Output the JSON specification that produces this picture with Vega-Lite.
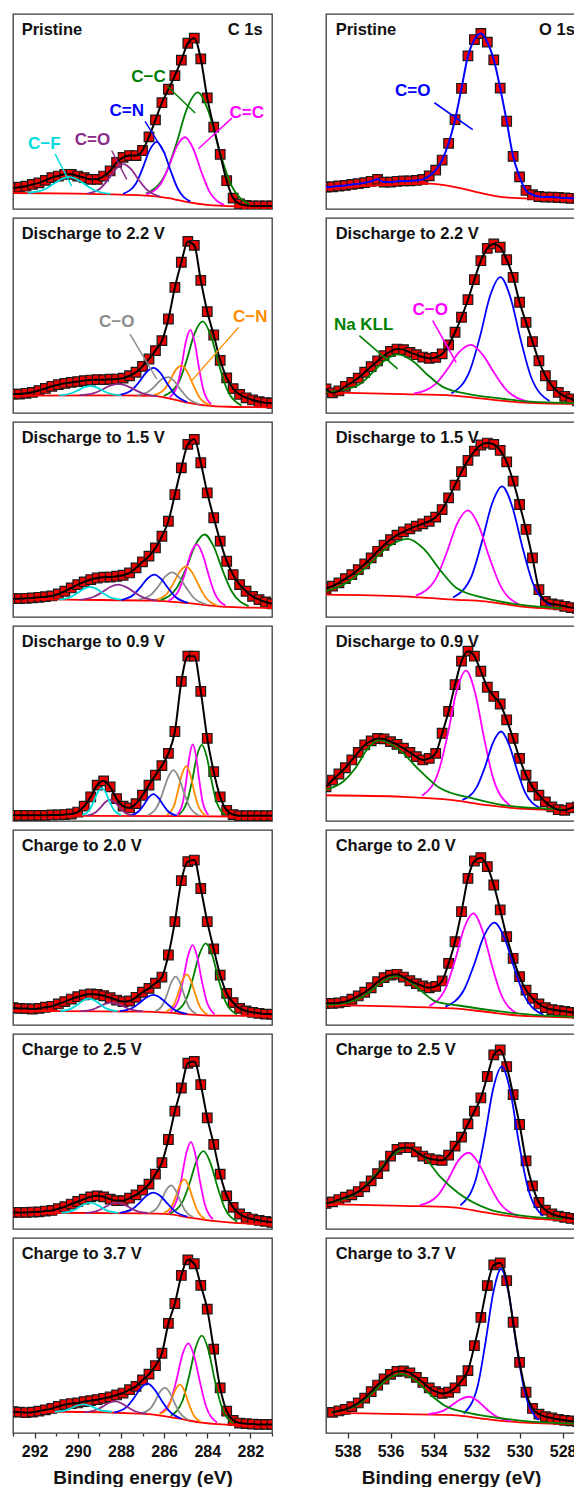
{
"$schema":"https://vega.github.io/schema/vega-lite/v6.json",
"padding":{"left":12,"top":13,"right":0,"bottom":0},
"spacing":52,
"config":{"view":{"stroke":"#3a3a3a","strokeWidth":1.3},"text":{"font":"Liberation Sans","fontWeight":"bold"},
"axisX":{"tickColor":"#333","tickWidth":1.3,"domain":false,"grid":false,"labelFont":"Liberation Sans","labelFontSize":16,"labelFontWeight":"bold","labelColor":"#111","labelPadding":5,"labelOverlap":false,"labelFlush":false,"titleFont":"Liberation Sans","titleFontSize":19,"titleFontWeight":"bold","titleColor":"#111","titlePadding":9}},
"resolve":{"scale":{"x":"independent","y":"independent","color":"independent"},"axis":{"x":"independent"}},
"datasets":{
"C":[
{"r":1,"k":"d","x":293,"y":10.8},{"r":1,"k":"d","x":292.7,"y":11.2},{"r":1,"k":"d","x":292.4,"y":11.7},{"r":1,"k":"d","x":292.1,"y":12.6},{"r":1,"k":"d","x":291.8,"y":13.4},{"r":1,"k":"d","x":291.5,"y":14.7},{"r":1,"k":"d","x":291.2,"y":16.1},{"r":1,"k":"d","x":290.9,"y":16.9},{"r":1,"k":"d","x":290.6,"y":17.8},{"r":1,"k":"d","x":290.3,"y":17.8},{"r":1,"k":"d","x":290,"y":16.9},{"r":1,"k":"d","x":289.7,"y":16.1},{"r":1,"k":"d","x":289.4,"y":15.2},{"r":1,"k":"d","x":289.1,"y":15.2},{"r":1,"k":"d","x":288.8,"y":16.9},{"r":1,"k":"d","x":288.5,"y":19.5},{"r":1,"k":"d","x":288.2,"y":23.9},{"r":1,"k":"d","x":287.9,"y":26.5},{"r":1,"k":"d","x":287.6,"y":27.4},{"r":1,"k":"d","x":287.3,"y":27.4},{"r":1,"k":"d","x":287,"y":30},{"r":1,"k":"d","x":286.7,"y":37},{"r":1,"k":"d","x":286.4,"y":45.7},{"r":1,"k":"d","x":286.1,"y":54.5},{"r":1,"k":"d","x":285.8,"y":61.4},{"r":1,"k":"d","x":285.5,"y":68.4},{"r":1,"k":"d","x":285.2,"y":76.3},{"r":1,"k":"d","x":284.9,"y":85},{"r":1,"k":"d","x":284.6,"y":87.6},{"r":1,"k":"d","x":284.3,"y":77},{"r":1,"k":"d","x":284,"y":57},{"r":1,"k":"d","x":283.7,"y":42},{"r":1,"k":"d","x":283.4,"y":28},{"r":1,"k":"d","x":283.1,"y":14.5},{"r":1,"k":"d","x":282.8,"y":5.6},{"r":1,"k":"d","x":282.5,"y":2.6},{"r":1,"k":"d","x":282.2,"y":1.8},{"r":1,"k":"d","x":281.9,"y":1.6},{"r":1,"k":"d","x":281.6,"y":1.6},{"r":1,"k":"d","x":281.3,"y":1.6},{"r":1,"k":"d","x":281,"y":1.6},
{"r":1,"k":"bg","x":293,"y":8.2},{"r":1,"k":"bg","x":290,"y":7.9},{"r":1,"k":"bg","x":287,"y":7},{"r":1,"k":"bg","x":285.8,"y":5.6},{"r":1,"k":"bg","x":284.9,"y":3.5},{"r":1,"k":"bg","x":284,"y":2.1},{"r":1,"k":"bg","x":282.7,"y":1.4},{"r":1,"k":"bg","x":281,"y":1.2},
{"r":1,"k":"C-C","x":286.84,"y":7.9},{"r":1,"k":"C-C","x":285.94,"y":17.8},{"r":1,"k":"C-C","x":285.44,"y":33.2},{"r":1,"k":"C-C","x":284.94,"y":51.5},{"r":1,"k":"C-C","x":284.44,"y":59.8},{"r":1,"k":"C-C","x":283.94,"y":49.9},{"r":1,"k":"C-C","x":283.44,"y":30.2},{"r":1,"k":"C-C","x":282.94,"y":13.5},{"r":1,"k":"C-C","x":282.04,"y":2.3},
{"r":1,"k":"C=C","x":286.82,"y":7.5},{"r":1,"k":"C=C","x":286.15,"y":13},{"r":1,"k":"C=C","x":285.77,"y":22},{"r":1,"k":"C=C","x":285.4,"y":32.4},{"r":1,"k":"C=C","x":285.02,"y":36.8},{"r":1,"k":"C=C","x":284.65,"y":30.9},{"r":1,"k":"C=C","x":284.27,"y":19},{"r":1,"k":"C=C","x":283.9,"y":8.9},{"r":1,"k":"C=C","x":283.22,"y":2.1},
{"r":1,"k":"C=N","x":287.9,"y":7.8},{"r":1,"k":"C=N","x":287.31,"y":13},{"r":1,"k":"C=N","x":286.99,"y":21},{"r":1,"k":"C=N","x":286.67,"y":30.2},{"r":1,"k":"C=N","x":286.34,"y":34.4},{"r":1,"k":"C=N","x":286.02,"y":29.5},{"r":1,"k":"C=N","x":285.69,"y":19.4},{"r":1,"k":"C=N","x":285.37,"y":10.5},{"r":1,"k":"C=N","x":284.78,"y":3.8},
{"r":1,"k":"C=O","x":289.56,"y":7.9},{"r":1,"k":"C=O","x":288.93,"y":10.8},{"r":1,"k":"C=O","x":288.58,"y":15.3},{"r":1,"k":"C=O","x":288.23,"y":20.6},{"r":1,"k":"C=O","x":287.88,"y":23},{"r":1,"k":"C=O","x":287.53,"y":20.4},{"r":1,"k":"C=O","x":287.18,"y":15},{"r":1,"k":"C=O","x":286.83,"y":10.2},{"r":1,"k":"C=O","x":286.2,"y":6.4},
{"r":1,"k":"C-F","x":292.32,"y":8.3},{"r":1,"k":"C-F","x":291.6,"y":9.8},{"r":1,"k":"C-F","x":291.2,"y":12.3},{"r":1,"k":"C-F","x":290.8,"y":15.1},{"r":1,"k":"C-F","x":290.4,"y":16.5},{"r":1,"k":"C-F","x":290,"y":15},{"r":1,"k":"C-F","x":289.6,"y":12.1},{"r":1,"k":"C-F","x":289.2,"y":9.5},{"r":1,"k":"C-F","x":288.48,"y":7.8},
{"r":2,"k":"d","x":293,"y":9.7},{"r":2,"k":"d","x":292.7,"y":9.7},{"r":2,"k":"d","x":292.4,"y":10.1},{"r":2,"k":"d","x":292.1,"y":10.6},{"r":2,"k":"d","x":291.8,"y":11.5},{"r":2,"k":"d","x":291.5,"y":12.6},{"r":2,"k":"d","x":291.2,"y":13.7},{"r":2,"k":"d","x":290.9,"y":14.5},{"r":2,"k":"d","x":290.6,"y":15.2},{"r":2,"k":"d","x":290.3,"y":15.7},{"r":2,"k":"d","x":290,"y":16.1},{"r":2,"k":"d","x":289.7,"y":16.6},{"r":2,"k":"d","x":289.4,"y":16.9},{"r":2,"k":"d","x":289.1,"y":17.1},{"r":2,"k":"d","x":288.8,"y":17.1},{"r":2,"k":"d","x":288.5,"y":17.3},{"r":2,"k":"d","x":288.2,"y":17.4},{"r":2,"k":"d","x":287.9,"y":17.9},{"r":2,"k":"d","x":287.6,"y":19.1},{"r":2,"k":"d","x":287.3,"y":20.9},{"r":2,"k":"d","x":287,"y":23.9},{"r":2,"k":"d","x":286.7,"y":27.7},{"r":2,"k":"d","x":286.4,"y":32},{"r":2,"k":"d","x":286.1,"y":37.1},{"r":2,"k":"d","x":285.8,"y":48.2},{"r":2,"k":"d","x":285.5,"y":64.4},{"r":2,"k":"d","x":285.2,"y":77.3},{"r":2,"k":"d","x":284.9,"y":88},{"r":2,"k":"d","x":284.6,"y":86},{"r":2,"k":"d","x":284.3,"y":68},{"r":2,"k":"d","x":284,"y":52},{"r":2,"k":"d","x":283.7,"y":40},{"r":2,"k":"d","x":283.4,"y":27},{"r":2,"k":"d","x":283.1,"y":18},{"r":2,"k":"d","x":282.8,"y":12.5},{"r":2,"k":"d","x":282.5,"y":9.5},{"r":2,"k":"d","x":282.2,"y":7.8},{"r":2,"k":"d","x":281.9,"y":6.7},{"r":2,"k":"d","x":281.6,"y":5.8},{"r":2,"k":"d","x":281.3,"y":5.3},{"r":2,"k":"d","x":281,"y":5},
{"r":2,"k":"bg","x":293,"y":8.9},{"r":2,"k":"bg","x":288,"y":9},{"r":2,"k":"bg","x":286.5,"y":8.8},{"r":2,"k":"bg","x":286,"y":8},{"r":2,"k":"bg","x":285,"y":5.5},{"r":2,"k":"bg","x":284,"y":3.8},{"r":2,"k":"bg","x":283,"y":3.2},{"r":2,"k":"bg","x":281,"y":2.9},
{"r":2,"k":"C-C","x":286.01,"y":8.8},{"r":2,"k":"C-C","x":285.34,"y":15.4},{"r":2,"k":"C-C","x":284.96,"y":26.9},{"r":2,"k":"C-C","x":284.59,"y":40.7},{"r":2,"k":"C-C","x":284.21,"y":47},{"r":2,"k":"C-C","x":283.84,"y":39.9},{"r":2,"k":"C-C","x":283.46,"y":24.9},{"r":2,"k":"C-C","x":283.09,"y":12.3},{"r":2,"k":"C-C","x":282.41,"y":3.8},
{"r":2,"k":"C=C","x":285.74,"y":8.1},{"r":2,"k":"C=C","x":285.38,"y":14.4},{"r":2,"k":"C=C","x":285.18,"y":24.8},{"r":2,"k":"C=C","x":284.98,"y":37.1},{"r":2,"k":"C=C","x":284.78,"y":42.6},{"r":2,"k":"C=C","x":284.58,"y":36.1},{"r":2,"k":"C=C","x":284.38,"y":23},{"r":2,"k":"C=C","x":284.18,"y":11.9},{"r":2,"k":"C=C","x":283.82,"y":4.4},
{"r":2,"k":"C-N","x":286.5,"y":9},{"r":2,"k":"C-N","x":286.01,"y":11.8},{"r":2,"k":"C-N","x":285.73,"y":16.6},{"r":2,"k":"C-N","x":285.46,"y":22.1},{"r":2,"k":"C-N","x":285.18,"y":24.3},{"r":2,"k":"C-N","x":284.91,"y":20.7},{"r":2,"k":"C-N","x":284.63,"y":13.9},{"r":2,"k":"C-N","x":284.36,"y":8},{"r":2,"k":"C-N","x":283.86,"y":4},
{"r":2,"k":"C-O","x":287.24,"y":9.1},{"r":2,"k":"C-O","x":286.7,"y":11.1},{"r":2,"k":"C-O","x":286.4,"y":14.1},{"r":2,"k":"C-O","x":286.1,"y":17.4},{"r":2,"k":"C-O","x":285.8,"y":18.4},{"r":2,"k":"C-O","x":285.5,"y":16},{"r":2,"k":"C-O","x":285.2,"y":11.5},{"r":2,"k":"C-O","x":284.9,"y":7.6},{"r":2,"k":"C-O","x":284.36,"y":4.4},
{"r":2,"k":"C=N","x":288.05,"y":9.3},{"r":2,"k":"C=N","x":287.47,"y":12},{"r":2,"k":"C=N","x":287.14,"y":16.1},{"r":2,"k":"C=N","x":286.82,"y":20.9},{"r":2,"k":"C=N","x":286.49,"y":23.1},{"r":2,"k":"C=N","x":286.17,"y":20.5},{"r":2,"k":"C=N","x":285.84,"y":14.8},{"r":2,"k":"C=N","x":285.52,"y":9.8},{"r":2,"k":"C=N","x":284.93,"y":5.6},
{"r":2,"k":"C=O","x":289.92,"y":9.1},{"r":2,"k":"C=O","x":289.25,"y":10.2},{"r":2,"k":"C=O","x":288.87,"y":12},{"r":2,"k":"C=O","x":288.5,"y":14},{"r":2,"k":"C=O","x":288.12,"y":14.9},{"r":2,"k":"C=O","x":287.75,"y":14},{"r":2,"k":"C=O","x":287.37,"y":12},{"r":2,"k":"C=O","x":287,"y":10.1},{"r":2,"k":"C=O","x":286.32,"y":8.7},
{"r":2,"k":"C-F","x":290.87,"y":9},{"r":2,"k":"C-F","x":290.33,"y":10},{"r":2,"k":"C-F","x":290.03,"y":11.4},{"r":2,"k":"C-F","x":289.73,"y":13.1},{"r":2,"k":"C-F","x":289.43,"y":13.9},{"r":2,"k":"C-F","x":289.13,"y":13.1},{"r":2,"k":"C-F","x":288.83,"y":11.4},{"r":2,"k":"C-F","x":288.53,"y":10},{"r":2,"k":"C-F","x":287.99,"y":9},
{"r":3,"k":"d","x":293,"y":9.4},{"r":3,"k":"d","x":292.7,"y":9.4},{"r":3,"k":"d","x":292.4,"y":9.6},{"r":3,"k":"d","x":292.1,"y":9.8},{"r":3,"k":"d","x":291.8,"y":10.1},{"r":3,"k":"d","x":291.5,"y":10.4},{"r":3,"k":"d","x":291.2,"y":10.8},{"r":3,"k":"d","x":290.9,"y":11.8},{"r":3,"k":"d","x":290.6,"y":13.2},{"r":3,"k":"d","x":290.3,"y":14.9},{"r":3,"k":"d","x":290,"y":16.6},{"r":3,"k":"d","x":289.7,"y":18},{"r":3,"k":"d","x":289.4,"y":19.2},{"r":3,"k":"d","x":289.1,"y":20},{"r":3,"k":"d","x":288.8,"y":20.4},{"r":3,"k":"d","x":288.5,"y":20.5},{"r":3,"k":"d","x":288.2,"y":20.9},{"r":3,"k":"d","x":287.9,"y":21.4},{"r":3,"k":"d","x":287.6,"y":22.6},{"r":3,"k":"d","x":287.3,"y":25.2},{"r":3,"k":"d","x":287,"y":28.3},{"r":3,"k":"d","x":286.7,"y":31.2},{"r":3,"k":"d","x":286.4,"y":35.4},{"r":3,"k":"d","x":286.1,"y":41.4},{"r":3,"k":"d","x":285.8,"y":49.1},{"r":3,"k":"d","x":285.5,"y":62.8},{"r":3,"k":"d","x":285.2,"y":76.5},{"r":3,"k":"d","x":284.9,"y":88.5},{"r":3,"k":"d","x":284.6,"y":91.1},{"r":3,"k":"d","x":284.3,"y":79.1},{"r":3,"k":"d","x":284,"y":63.7},{"r":3,"k":"d","x":283.7,"y":50.9},{"r":3,"k":"d","x":283.4,"y":38.9},{"r":3,"k":"d","x":283.1,"y":28.6},{"r":3,"k":"d","x":282.8,"y":21.7},{"r":3,"k":"d","x":282.5,"y":16.6},{"r":3,"k":"d","x":282.2,"y":13.2},{"r":3,"k":"d","x":281.9,"y":10.6},{"r":3,"k":"d","x":281.6,"y":8.9},{"r":3,"k":"d","x":281.3,"y":7.7},{"r":3,"k":"d","x":281,"y":6.8},
{"r":3,"k":"bg","x":293,"y":9.4},{"r":3,"k":"bg","x":290.5,"y":8.9},{"r":3,"k":"bg","x":286.6,"y":8.4},{"r":3,"k":"bg","x":285,"y":7.2},{"r":3,"k":"bg","x":283.5,"y":5.5},{"r":3,"k":"bg","x":281,"y":4.6},
{"r":3,"k":"C-C","x":286.16,"y":8.7},{"r":3,"k":"C-C","x":285.4,"y":15.1},{"r":3,"k":"C-C","x":284.97,"y":25.2},{"r":3,"k":"C-C","x":284.55,"y":37},{"r":3,"k":"C-C","x":284.12,"y":42.3},{"r":3,"k":"C-C","x":283.7,"y":36.1},{"r":3,"k":"C-C","x":283.27,"y":23.4},{"r":3,"k":"C-C","x":282.85,"y":12.8},{"r":3,"k":"C-C","x":282.08,"y":5.5},
{"r":3,"k":"C=C","x":285.8,"y":8.3},{"r":3,"k":"C=C","x":285.31,"y":13.8},{"r":3,"k":"C=C","x":285.03,"y":22.5},{"r":3,"k":"C=C","x":284.76,"y":32.6},{"r":3,"k":"C=C","x":284.48,"y":37.2},{"r":3,"k":"C=C","x":284.21,"y":32},{"r":3,"k":"C=C","x":283.93,"y":21.3},{"r":3,"k":"C=C","x":283.66,"y":12.2},{"r":3,"k":"C=C","x":283.16,"y":5.9},
{"r":3,"k":"C-N","x":286.42,"y":8.6},{"r":3,"k":"C-N","x":285.88,"y":11.8},{"r":3,"k":"C-N","x":285.58,"y":17.1},{"r":3,"k":"C-N","x":285.28,"y":23.1},{"r":3,"k":"C-N","x":284.98,"y":25.9},{"r":3,"k":"C-N","x":284.68,"y":22.5},{"r":3,"k":"C-N","x":284.38,"y":15.9},{"r":3,"k":"C-N","x":284.08,"y":10.1},{"r":3,"k":"C-N","x":283.54,"y":5.8},
{"r":3,"k":"C-O","x":287.17,"y":8.9},{"r":3,"k":"C-O","x":286.59,"y":11.6},{"r":3,"k":"C-O","x":286.26,"y":15.8},{"r":3,"k":"C-O","x":285.94,"y":20.8},{"r":3,"k":"C-O","x":285.61,"y":22.9},{"r":3,"k":"C-O","x":285.29,"y":20.2},{"r":3,"k":"C-O","x":284.96,"y":14.8},{"r":3,"k":"C-O","x":284.64,"y":10},{"r":3,"k":"C-O","x":284.05,"y":6.5},
{"r":3,"k":"C=N","x":288.01,"y":8.7},{"r":3,"k":"C=N","x":287.43,"y":11.3},{"r":3,"k":"C=N","x":287.1,"y":15.2},{"r":3,"k":"C=N","x":286.78,"y":19.6},{"r":3,"k":"C=N","x":286.45,"y":21.7},{"r":3,"k":"C=N","x":286.13,"y":19.4},{"r":3,"k":"C=N","x":285.8,"y":14.6},{"r":3,"k":"C=N","x":285.48,"y":10.4},{"r":3,"k":"C=N","x":284.89,"y":7.3},
{"r":3,"k":"C=O","x":289.92,"y":8.8},{"r":3,"k":"C=O","x":289.25,"y":10.4},{"r":3,"k":"C=O","x":288.87,"y":12.7},{"r":3,"k":"C=O","x":288.5,"y":15.4},{"r":3,"k":"C=O","x":288.12,"y":16.6},{"r":3,"k":"C=O","x":287.75,"y":15.3},{"r":3,"k":"C=O","x":287.37,"y":12.6},{"r":3,"k":"C=O","x":287,"y":10.2},{"r":3,"k":"C=O","x":286.32,"y":8.5},
{"r":3,"k":"C-F","x":290.87,"y":8.9},{"r":3,"k":"C-F","x":290.33,"y":10.2},{"r":3,"k":"C-F","x":290.03,"y":12.2},{"r":3,"k":"C-F","x":289.73,"y":14.4},{"r":3,"k":"C-F","x":289.43,"y":15.5},{"r":3,"k":"C-F","x":289.13,"y":14.4},{"r":3,"k":"C-F","x":288.83,"y":12.2},{"r":3,"k":"C-F","x":288.53,"y":10.2},{"r":3,"k":"C-F","x":287.99,"y":8.9},
{"r":4,"k":"d","x":293,"y":2.9},{"r":4,"k":"d","x":292.7,"y":2.9},{"r":4,"k":"d","x":292.4,"y":2.9},{"r":4,"k":"d","x":292.1,"y":2.9},{"r":4,"k":"d","x":291.8,"y":2.9},{"r":4,"k":"d","x":291.5,"y":2.9},{"r":4,"k":"d","x":291.2,"y":3.1},{"r":4,"k":"d","x":290.9,"y":3.1},{"r":4,"k":"d","x":290.6,"y":3.3},{"r":4,"k":"d","x":290.3,"y":3.6},{"r":4,"k":"d","x":290,"y":4.6},{"r":4,"k":"d","x":289.7,"y":7.6},{"r":4,"k":"d","x":289.4,"y":12.4},{"r":4,"k":"d","x":289.1,"y":18.4},{"r":4,"k":"d","x":288.8,"y":20.6},{"r":4,"k":"d","x":288.5,"y":17.5},{"r":4,"k":"d","x":288.2,"y":11.5},{"r":4,"k":"d","x":287.9,"y":7.6},{"r":4,"k":"d","x":287.6,"y":6.7},{"r":4,"k":"d","x":287.3,"y":8.9},{"r":4,"k":"d","x":287,"y":13.2},{"r":4,"k":"d","x":286.7,"y":18.4},{"r":4,"k":"d","x":286.4,"y":23.5},{"r":4,"k":"d","x":286.1,"y":28.4},{"r":4,"k":"d","x":285.8,"y":34.7},{"r":4,"k":"d","x":285.5,"y":45.9},{"r":4,"k":"d","x":285.2,"y":71.6},{"r":4,"k":"d","x":284.9,"y":84.5},{"r":4,"k":"d","x":284.6,"y":84.5},{"r":4,"k":"d","x":284.3,"y":66.5},{"r":4,"k":"d","x":284,"y":42.4},{"r":4,"k":"d","x":283.7,"y":25.3},{"r":4,"k":"d","x":283.4,"y":12.4},{"r":4,"k":"d","x":283.1,"y":5.5},{"r":4,"k":"d","x":282.8,"y":3.3},{"r":4,"k":"d","x":282.5,"y":2.7},{"r":4,"k":"d","x":282.2,"y":2.7},{"r":4,"k":"d","x":281.9,"y":2.7},{"r":4,"k":"d","x":281.6,"y":2.7},{"r":4,"k":"d","x":281.3,"y":2.7},{"r":4,"k":"d","x":281,"y":2.7},
{"r":4,"k":"bg","x":293,"y":2.7},{"r":4,"k":"bg","x":285,"y":2.5},{"r":4,"k":"bg","x":281,"y":2.1},
{"r":4,"k":"C-C","x":285.33,"y":3.1},{"r":4,"k":"C-C","x":284.93,"y":10.1},{"r":4,"k":"C-C","x":284.7,"y":20.7},{"r":4,"k":"C-C","x":284.48,"y":33.2},{"r":4,"k":"C-C","x":284.25,"y":39},{"r":4,"k":"C-C","x":284.03,"y":33.2},{"r":4,"k":"C-C","x":283.8,"y":20.7},{"r":4,"k":"C-C","x":283.58,"y":10.1},{"r":4,"k":"C-C","x":283.17,"y":3.1},
{"r":4,"k":"C=C","x":285.39,"y":3.1},{"r":4,"k":"C=C","x":285.12,"y":10.1},{"r":4,"k":"C=C","x":284.97,"y":20.9},{"r":4,"k":"C=C","x":284.82,"y":33.4},{"r":4,"k":"C=C","x":284.67,"y":39.3},{"r":4,"k":"C=C","x":284.52,"y":33.4},{"r":4,"k":"C=C","x":284.37,"y":20.9},{"r":4,"k":"C=C","x":284.22,"y":10.1},{"r":4,"k":"C=C","x":283.95,"y":3.1},
{"r":4,"k":"C-N","x":285.88,"y":2.9},{"r":4,"k":"C-N","x":285.54,"y":7.8},{"r":4,"k":"C-N","x":285.36,"y":15.3},{"r":4,"k":"C-N","x":285.17,"y":24},{"r":4,"k":"C-N","x":284.98,"y":28.1},{"r":4,"k":"C-N","x":284.79,"y":24},{"r":4,"k":"C-N","x":284.61,"y":15.3},{"r":4,"k":"C-N","x":284.42,"y":7.8},{"r":4,"k":"C-N","x":284.08,"y":2.9},
{"r":4,"k":"C-O","x":286.77,"y":2.8},{"r":4,"k":"C-O","x":286.32,"y":7.4},{"r":4,"k":"C-O","x":286.07,"y":14.3},{"r":4,"k":"C-O","x":285.82,"y":22.3},{"r":4,"k":"C-O","x":285.57,"y":26.1},{"r":4,"k":"C-O","x":285.32,"y":22.3},{"r":4,"k":"C-O","x":285.07,"y":14.3},{"r":4,"k":"C-O","x":284.82,"y":7.4},{"r":4,"k":"C-O","x":284.37,"y":2.8},
{"r":4,"k":"C=N","x":287.57,"y":2.8},{"r":4,"k":"C=N","x":287.17,"y":5},{"r":4,"k":"C=N","x":286.94,"y":8.2},{"r":4,"k":"C=N","x":286.72,"y":12},{"r":4,"k":"C=N","x":286.49,"y":13.8},{"r":4,"k":"C=N","x":286.27,"y":12},{"r":4,"k":"C=N","x":286.04,"y":8.2},{"r":4,"k":"C=N","x":285.82,"y":5},{"r":4,"k":"C=N","x":285.41,"y":2.8},
{"r":4,"k":"C=O","x":289.58,"y":2.8},{"r":4,"k":"C=O","x":289.18,"y":4.4},{"r":4,"k":"C=O","x":288.95,"y":6.8},{"r":4,"k":"C=O","x":288.73,"y":9.6},{"r":4,"k":"C=O","x":288.5,"y":10.9},{"r":4,"k":"C=O","x":288.28,"y":9.6},{"r":4,"k":"C=O","x":288.05,"y":6.8},{"r":4,"k":"C=O","x":287.83,"y":4.4},{"r":4,"k":"C=O","x":287.42,"y":2.8},
{"r":4,"k":"C-F","x":289.79,"y":3},{"r":4,"k":"C-F","x":289.45,"y":5.7},{"r":4,"k":"C-F","x":289.27,"y":9.8},{"r":4,"k":"C-F","x":289.08,"y":14.6},{"r":4,"k":"C-F","x":288.89,"y":16.9},{"r":4,"k":"C-F","x":288.7,"y":14.6},{"r":4,"k":"C-F","x":288.52,"y":9.8},{"r":4,"k":"C-F","x":288.33,"y":5.7},{"r":4,"k":"C-F","x":287.99,"y":3},
{"r":5,"k":"d","x":293,"y":8.9},{"r":5,"k":"d","x":292.7,"y":8.5},{"r":5,"k":"d","x":292.4,"y":8.4},{"r":5,"k":"d","x":292.1,"y":8.2},{"r":5,"k":"d","x":291.8,"y":8.5},{"r":5,"k":"d","x":291.5,"y":9.1},{"r":5,"k":"d","x":291.2,"y":9.6},{"r":5,"k":"d","x":290.9,"y":10.8},{"r":5,"k":"d","x":290.6,"y":12},{"r":5,"k":"d","x":290.3,"y":13.3},{"r":5,"k":"d","x":290,"y":14.5},{"r":5,"k":"d","x":289.7,"y":15.4},{"r":5,"k":"d","x":289.4,"y":15.9},{"r":5,"k":"d","x":289.1,"y":15.7},{"r":5,"k":"d","x":288.8,"y":15},{"r":5,"k":"d","x":288.5,"y":14},{"r":5,"k":"d","x":288.2,"y":12.8},{"r":5,"k":"d","x":287.9,"y":12},{"r":5,"k":"d","x":287.6,"y":12.3},{"r":5,"k":"d","x":287.3,"y":14.2},{"r":5,"k":"d","x":287,"y":16.8},{"r":5,"k":"d","x":286.7,"y":18.8},{"r":5,"k":"d","x":286.4,"y":21.4},{"r":5,"k":"d","x":286.1,"y":24.6},{"r":5,"k":"d","x":285.8,"y":35.9},{"r":5,"k":"d","x":285.5,"y":53},{"r":5,"k":"d","x":285.2,"y":74},{"r":5,"k":"d","x":284.9,"y":83.8},{"r":5,"k":"d","x":284.6,"y":84.6},{"r":5,"k":"d","x":284.3,"y":70},{"r":5,"k":"d","x":284,"y":53},{"r":5,"k":"d","x":283.7,"y":39},{"r":5,"k":"d","x":283.4,"y":25.6},{"r":5,"k":"d","x":283.1,"y":16.2},{"r":5,"k":"d","x":282.8,"y":11.5},{"r":5,"k":"d","x":282.5,"y":8.5},{"r":5,"k":"d","x":282.2,"y":7.2},{"r":5,"k":"d","x":281.9,"y":6.5},{"r":5,"k":"d","x":281.6,"y":6},{"r":5,"k":"d","x":281.3,"y":5.6},{"r":5,"k":"d","x":281,"y":5.5},
{"r":5,"k":"bg","x":293,"y":7.2},{"r":5,"k":"bg","x":287,"y":6.9},{"r":5,"k":"bg","x":285.8,"y":6.3},{"r":5,"k":"bg","x":284.9,"y":5.5},{"r":5,"k":"bg","x":283.5,"y":4.8},{"r":5,"k":"bg","x":281,"y":4.6},
{"r":5,"k":"C-C","x":285.51,"y":6.7},{"r":5,"k":"C-C","x":284.97,"y":13.3},{"r":5,"k":"C-C","x":284.67,"y":23.7},{"r":5,"k":"C-C","x":284.37,"y":36.1},{"r":5,"k":"C-C","x":284.07,"y":41.9},{"r":5,"k":"C-C","x":283.77,"y":35.8},{"r":5,"k":"C-C","x":283.47,"y":23.2},{"r":5,"k":"C-C","x":283.17,"y":12.4},{"r":5,"k":"C-C","x":282.63,"y":5.4},
{"r":5,"k":"C=C","x":285.7,"y":6.8},{"r":5,"k":"C=C","x":285.32,"y":13.3},{"r":5,"k":"C=C","x":285.11,"y":23.6},{"r":5,"k":"C=C","x":284.89,"y":35.5},{"r":5,"k":"C=C","x":284.68,"y":41},{"r":5,"k":"C=C","x":284.47,"y":35.2},{"r":5,"k":"C=C","x":284.26,"y":23.1},{"r":5,"k":"C=C","x":284.04,"y":12.6},{"r":5,"k":"C=C","x":283.66,"y":5.5},
{"r":5,"k":"C-N","x":285.91,"y":6.8},{"r":5,"k":"C-N","x":285.55,"y":10.3},{"r":5,"k":"C-N","x":285.35,"y":16.1},{"r":5,"k":"C-N","x":285.15,"y":22.9},{"r":5,"k":"C-N","x":284.95,"y":26},{"r":5,"k":"C-N","x":284.75,"y":22.6},{"r":5,"k":"C-N","x":284.55,"y":15.6},{"r":5,"k":"C-N","x":284.35,"y":9.5},{"r":5,"k":"C-N","x":283.99,"y":5.4},
{"r":5,"k":"C-O","x":286.42,"y":6.9},{"r":5,"k":"C-O","x":286.06,"y":10.4},{"r":5,"k":"C-O","x":285.86,"y":15.8},{"r":5,"k":"C-O","x":285.66,"y":22},{"r":5,"k":"C-O","x":285.46,"y":24.8},{"r":5,"k":"C-O","x":285.26,"y":21.7},{"r":5,"k":"C-O","x":285.06,"y":15.1},{"r":5,"k":"C-O","x":284.86,"y":9.4},{"r":5,"k":"C-O","x":284.5,"y":5.6},
{"r":5,"k":"C=N","x":288.05,"y":7.1},{"r":5,"k":"C=N","x":287.47,"y":8.7},{"r":5,"k":"C=N","x":287.14,"y":11.3},{"r":5,"k":"C=N","x":286.82,"y":14.1},{"r":5,"k":"C=N","x":286.49,"y":15.4},{"r":5,"k":"C=N","x":286.17,"y":13.9},{"r":5,"k":"C=N","x":285.84,"y":10.7},{"r":5,"k":"C=N","x":285.52,"y":7.8},{"r":5,"k":"C=N","x":284.93,"y":5.7},
{"r":5,"k":"C=O","x":289.87,"y":7.1},{"r":5,"k":"C=O","x":289.33,"y":7.9},{"r":5,"k":"C=O","x":289.03,"y":9.3},{"r":5,"k":"C=O","x":288.73,"y":10.8},{"r":5,"k":"C=O","x":288.43,"y":11.5},{"r":5,"k":"C=O","x":288.13,"y":10.8},{"r":5,"k":"C=O","x":287.83,"y":9.3},{"r":5,"k":"C=O","x":287.53,"y":7.9},{"r":5,"k":"C=O","x":286.99,"y":7.1},
{"r":5,"k":"C-F","x":290.8,"y":7.1},{"r":5,"k":"C-F","x":290.31,"y":8.4},{"r":5,"k":"C-F","x":290.03,"y":10.3},{"r":5,"k":"C-F","x":289.76,"y":12.6},{"r":5,"k":"C-F","x":289.48,"y":13.6},{"r":5,"k":"C-F","x":289.21,"y":12.6},{"r":5,"k":"C-F","x":288.93,"y":10.3},{"r":5,"k":"C-F","x":288.66,"y":8.4},{"r":5,"k":"C-F","x":288.16,"y":7.1},
{"r":6,"k":"d","x":293,"y":8.5},{"r":6,"k":"d","x":292.7,"y":8.5},{"r":6,"k":"d","x":292.4,"y":8.5},{"r":6,"k":"d","x":292.1,"y":8.7},{"r":6,"k":"d","x":291.8,"y":8.8},{"r":6,"k":"d","x":291.5,"y":9.2},{"r":6,"k":"d","x":291.2,"y":9.5},{"r":6,"k":"d","x":290.9,"y":10.4},{"r":6,"k":"d","x":290.6,"y":11.4},{"r":6,"k":"d","x":290.3,"y":12.8},{"r":6,"k":"d","x":290,"y":14.1},{"r":6,"k":"d","x":289.7,"y":15.3},{"r":6,"k":"d","x":289.4,"y":16.5},{"r":6,"k":"d","x":289.1,"y":17},{"r":6,"k":"d","x":288.8,"y":16.5},{"r":6,"k":"d","x":288.5,"y":15.3},{"r":6,"k":"d","x":288.2,"y":14.5},{"r":6,"k":"d","x":287.9,"y":14.5},{"r":6,"k":"d","x":287.6,"y":15.8},{"r":6,"k":"d","x":287.3,"y":17.5},{"r":6,"k":"d","x":287,"y":19.9},{"r":6,"k":"d","x":286.7,"y":23},{"r":6,"k":"d","x":286.4,"y":28.1},{"r":6,"k":"d","x":286.1,"y":34},{"r":6,"k":"d","x":285.8,"y":45.9},{"r":6,"k":"d","x":285.5,"y":60.4},{"r":6,"k":"d","x":285.2,"y":72.3},{"r":6,"k":"d","x":284.9,"y":85},{"r":6,"k":"d","x":284.6,"y":85.9},{"r":6,"k":"d","x":284.3,"y":74},{"r":6,"k":"d","x":284,"y":57},{"r":6,"k":"d","x":283.7,"y":43.4},{"r":6,"k":"d","x":283.4,"y":28.1},{"r":6,"k":"d","x":283.1,"y":17},{"r":6,"k":"d","x":282.8,"y":11.1},{"r":6,"k":"d","x":282.5,"y":7.7},{"r":6,"k":"d","x":282.2,"y":6},{"r":6,"k":"d","x":281.9,"y":5.1},{"r":6,"k":"d","x":281.6,"y":4.4},{"r":6,"k":"d","x":281.3,"y":3.9},{"r":6,"k":"d","x":281,"y":3.4},
{"r":6,"k":"bg","x":293,"y":8.4},{"r":6,"k":"bg","x":287,"y":8},{"r":6,"k":"bg","x":285.8,"y":7.6},{"r":6,"k":"bg","x":284.9,"y":6},{"r":6,"k":"bg","x":283.5,"y":3.9},{"r":6,"k":"bg","x":281,"y":2.2},
{"r":6,"k":"C-C","x":285.73,"y":8},{"r":6,"k":"C-C","x":285.15,"y":13.9},{"r":6,"k":"C-C","x":284.82,"y":23.4},{"r":6,"k":"C-C","x":284.5,"y":34.8},{"r":6,"k":"C-C","x":284.17,"y":39.9},{"r":6,"k":"C-C","x":283.85,"y":33.8},{"r":6,"k":"C-C","x":283.52,"y":21.4},{"r":6,"k":"C-C","x":283.2,"y":11},{"r":6,"k":"C-C","x":282.61,"y":3.8},
{"r":6,"k":"C=C","x":285.78,"y":8.3},{"r":6,"k":"C=C","x":285.4,"y":15.2},{"r":6,"k":"C=C","x":285.19,"y":26.1},{"r":6,"k":"C=C","x":284.97,"y":38.9},{"r":6,"k":"C=C","x":284.76,"y":44.7},{"r":6,"k":"C=C","x":284.55,"y":38.2},{"r":6,"k":"C=C","x":284.34,"y":24.7},{"r":6,"k":"C=C","x":284.12,"y":13},{"r":6,"k":"C=C","x":283.74,"y":5},
{"r":6,"k":"C-N","x":286.02,"y":8.1},{"r":6,"k":"C-N","x":285.66,"y":11.4},{"r":6,"k":"C-N","x":285.46,"y":16.6},{"r":6,"k":"C-N","x":285.26,"y":22.8},{"r":6,"k":"C-N","x":285.06,"y":25.5},{"r":6,"k":"C-N","x":284.86,"y":22.1},{"r":6,"k":"C-N","x":284.66,"y":15.3},{"r":6,"k":"C-N","x":284.46,"y":9.4},{"r":6,"k":"C-N","x":284.1,"y":5.1},
{"r":6,"k":"C-O","x":286.69,"y":8.2},{"r":6,"k":"C-O","x":286.31,"y":11},{"r":6,"k":"C-O","x":286.1,"y":15.4},{"r":6,"k":"C-O","x":285.88,"y":20.4},{"r":6,"k":"C-O","x":285.67,"y":22.4},{"r":6,"k":"C-O","x":285.46,"y":19.7},{"r":6,"k":"C-O","x":285.25,"y":14.3},{"r":6,"k":"C-O","x":285.03,"y":9.5},{"r":6,"k":"C-O","x":284.65,"y":6},
{"r":6,"k":"C=N","x":288.05,"y":8.3},{"r":6,"k":"C=N","x":287.47,"y":10.2},{"r":6,"k":"C=N","x":287.14,"y":13.4},{"r":6,"k":"C=N","x":286.82,"y":17},{"r":6,"k":"C=N","x":286.49,"y":18.7},{"r":6,"k":"C=N","x":286.17,"y":16.9},{"r":6,"k":"C=N","x":285.84,"y":13},{"r":6,"k":"C=N","x":285.52,"y":9.3},{"r":6,"k":"C=N","x":284.93,"y":6.3},
{"r":6,"k":"C=O","x":289.63,"y":8.2},{"r":6,"k":"C=O","x":289.09,"y":9.3},{"r":6,"k":"C=O","x":288.79,"y":10.9},{"r":6,"k":"C=O","x":288.49,"y":12.7},{"r":6,"k":"C=O","x":288.19,"y":13.6},{"r":6,"k":"C=O","x":287.89,"y":12.7},{"r":6,"k":"C=O","x":287.59,"y":10.9},{"r":6,"k":"C=O","x":287.29,"y":9.3},{"r":6,"k":"C=O","x":286.75,"y":8.2},
{"r":6,"k":"C-F","x":290.75,"y":8.3},{"r":6,"k":"C-F","x":290.26,"y":9.3},{"r":6,"k":"C-F","x":289.98,"y":10.9},{"r":6,"k":"C-F","x":289.71,"y":12.7},{"r":6,"k":"C-F","x":289.43,"y":13.5},{"r":6,"k":"C-F","x":289.16,"y":12.7},{"r":6,"k":"C-F","x":288.88,"y":10.9},{"r":6,"k":"C-F","x":288.61,"y":9.3},{"r":6,"k":"C-F","x":288.11,"y":8.3},
{"r":7,"k":"d","x":293,"y":10.9},{"r":7,"k":"d","x":292.7,"y":10.7},{"r":7,"k":"d","x":292.4,"y":10.5},{"r":7,"k":"d","x":292.1,"y":10.7},{"r":7,"k":"d","x":291.8,"y":11.2},{"r":7,"k":"d","x":291.5,"y":11.9},{"r":7,"k":"d","x":291.2,"y":12.6},{"r":7,"k":"d","x":290.9,"y":13.6},{"r":7,"k":"d","x":290.6,"y":14.6},{"r":7,"k":"d","x":290.3,"y":15.1},{"r":7,"k":"d","x":290,"y":15.4},{"r":7,"k":"d","x":289.7,"y":16.1},{"r":7,"k":"d","x":289.4,"y":16.6},{"r":7,"k":"d","x":289.1,"y":17.1},{"r":7,"k":"d","x":288.8,"y":17.8},{"r":7,"k":"d","x":288.5,"y":18.5},{"r":7,"k":"d","x":288.2,"y":19.5},{"r":7,"k":"d","x":287.9,"y":20.5},{"r":7,"k":"d","x":287.6,"y":22.2},{"r":7,"k":"d","x":287.3,"y":23.9},{"r":7,"k":"d","x":287,"y":27.2},{"r":7,"k":"d","x":286.7,"y":30.2},{"r":7,"k":"d","x":286.4,"y":34.5},{"r":7,"k":"d","x":286.1,"y":40.9},{"r":7,"k":"d","x":285.8,"y":56.2},{"r":7,"k":"d","x":285.5,"y":66.4},{"r":7,"k":"d","x":285.2,"y":80.8},{"r":7,"k":"d","x":284.9,"y":88.8},{"r":7,"k":"d","x":284.6,"y":86.8},{"r":7,"k":"d","x":284.3,"y":75.7},{"r":7,"k":"d","x":284,"y":63.5},{"r":7,"k":"d","x":283.7,"y":43},{"r":7,"k":"d","x":283.4,"y":23.1},{"r":7,"k":"d","x":283.1,"y":11.2},{"r":7,"k":"d","x":282.8,"y":6.5},{"r":7,"k":"d","x":282.5,"y":5.1},{"r":7,"k":"d","x":282.2,"y":4.8},{"r":7,"k":"d","x":281.9,"y":4.6},{"r":7,"k":"d","x":281.6,"y":4.4},{"r":7,"k":"d","x":281.3,"y":4.4},{"r":7,"k":"d","x":281,"y":4.4},
{"r":7,"k":"bg","x":293,"y":10.9},{"r":7,"k":"bg","x":290.7,"y":10.9},{"r":7,"k":"bg","x":286.9,"y":9.8},{"r":7,"k":"bg","x":285.5,"y":7.8},{"r":7,"k":"bg","x":284.25,"y":5.3},{"r":7,"k":"bg","x":282.7,"y":4.1},{"r":7,"k":"bg","x":281,"y":3.9},
{"r":7,"k":"C-C","x":285.69,"y":8.9},{"r":7,"k":"C-C","x":285.15,"y":16.4},{"r":7,"k":"C-C","x":284.85,"y":28.7},{"r":7,"k":"C-C","x":284.55,"y":43.3},{"r":7,"k":"C-C","x":284.25,"y":49.9},{"r":7,"k":"C-C","x":283.95,"y":42.6},{"r":7,"k":"C-C","x":283.65,"y":27.1},{"r":7,"k":"C-C","x":283.35,"y":14},{"r":7,"k":"C-C","x":282.81,"y":5},
{"r":7,"k":"C=C","x":286.19,"y":10.1},{"r":7,"k":"C=C","x":285.7,"y":16.4},{"r":7,"k":"C=C","x":285.42,"y":27.4},{"r":7,"k":"C=C","x":285.15,"y":40.3},{"r":7,"k":"C=C","x":284.87,"y":46},{"r":7,"k":"C=C","x":284.6,"y":39.1},{"r":7,"k":"C=C","x":284.32,"y":25.2},{"r":7,"k":"C=C","x":284.05,"y":13.5},{"r":7,"k":"C=C","x":283.55,"y":5.4},
{"r":7,"k":"C-N","x":286.22,"y":9.7},{"r":7,"k":"C-N","x":285.86,"y":12.3},{"r":7,"k":"C-N","x":285.66,"y":17.1},{"r":7,"k":"C-N","x":285.46,"y":22.6},{"r":7,"k":"C-N","x":285.26,"y":24.8},{"r":7,"k":"C-N","x":285.06,"y":21.6},{"r":7,"k":"C-N","x":284.86,"y":15.2},{"r":7,"k":"C-N","x":284.66,"y":9.7},{"r":7,"k":"C-N","x":284.3,"y":5.7},
{"r":7,"k":"C-O","x":287.03,"y":10.1},{"r":7,"k":"C-O","x":286.63,"y":12.6},{"r":7,"k":"C-O","x":286.4,"y":16.6},{"r":7,"k":"C-O","x":286.18,"y":21.3},{"r":7,"k":"C-O","x":285.95,"y":23.1},{"r":7,"k":"C-O","x":285.73,"y":20.5},{"r":7,"k":"C-O","x":285.5,"y":15.1},{"r":7,"k":"C-O","x":285.28,"y":10.5},{"r":7,"k":"C-O","x":284.87,"y":6.7},
{"r":7,"k":"C=N","x":288.32,"y":10.5},{"r":7,"k":"C=N","x":287.74,"y":13.3},{"r":7,"k":"C=N","x":287.41,"y":17.7},{"r":7,"k":"C=N","x":287.09,"y":22.9},{"r":7,"k":"C=N","x":286.76,"y":25.3},{"r":7,"k":"C=N","x":286.44,"y":22.3},{"r":7,"k":"C=N","x":286.11,"y":16.6},{"r":7,"k":"C=N","x":285.79,"y":11.6},{"r":7,"k":"C=N","x":285.2,"y":7.3},
{"r":7,"k":"C=O","x":289.71,"y":10.7},{"r":7,"k":"C=O","x":289.17,"y":11.8},{"r":7,"k":"C=O","x":288.87,"y":13.4},{"r":7,"k":"C=O","x":288.57,"y":15.4},{"r":7,"k":"C=O","x":288.27,"y":16.3},{"r":7,"k":"C=O","x":287.97,"y":15.2},{"r":7,"k":"C=O","x":287.67,"y":13.1},{"r":7,"k":"C=O","x":287.37,"y":11.3},{"r":7,"k":"C=O","x":286.83,"y":9.9},
{"r":7,"k":"C-F","x":291.06,"y":10.9},{"r":7,"k":"C-F","x":290.57,"y":11.6},{"r":7,"k":"C-F","x":290.29,"y":12.8},{"r":7,"k":"C-F","x":290.02,"y":14.1},{"r":7,"k":"C-F","x":289.74,"y":14.7},{"r":7,"k":"C-F","x":289.47,"y":14.1},{"r":7,"k":"C-F","x":289.19,"y":12.8},{"r":7,"k":"C-F","x":288.92,"y":11.6},{"r":7,"k":"C-F","x":288.42,"y":10.9},
{"r":1,"k":"a","g":"C-C","t":"C−C","x":286.72,"y":67.5},{"r":1,"k":"a","g":"C=C","t":"C=C","x":282.17,"y":49.2},{"r":1,"k":"a","g":"C=N","t":"C=N","x":287.73,"y":50.1},{"r":1,"k":"a","g":"C=O","t":"C=O","x":289.32,"y":35.3},{"r":1,"k":"a","g":"C-F","t":"C−F","x":291.55,"y":33.5},{"r":2,"k":"a","g":"C-O","t":"C−O","x":288.19,"y":46.8},{"r":2,"k":"a","g":"C-N","t":"C−N","x":282.01,"y":49.1},
{"r":1,"k":"w","g":"C-C","x":285.87,"y":63.2,"x2":284.56,"y2":49.2},{"r":1,"k":"w","g":"C=C","x":282.86,"y":46.6,"x2":284.41,"y2":30.9},{"r":1,"k":"w","g":"C=N","x":286.88,"y":44.9,"x2":285.95,"y2":28.3},{"r":1,"k":"w","g":"C=O","x":288.43,"y":30,"x2":287.73,"y2":15.2},{"r":1,"k":"w","g":"C-F","x":291.05,"y":28.3,"x2":290.28,"y2":11.7},{"r":2,"k":"w","g":"C-O","x":287.58,"y":40.5,"x2":286.34,"y2":17.4},{"r":2,"k":"w","g":"C-N","x":282.55,"y":43.9,"x2":284.72,"y2":16.6},
{"r":1,"k":"t","t":"Pristine"},{"r":2,"k":"t","t":"Discharge to 2.2 V"},{"r":3,"k":"t","t":"Discharge to 1.5 V"},{"r":4,"k":"t","t":"Discharge to 0.9 V"},{"r":5,"k":"t","t":"Charge to 2.0 V"},{"r":6,"k":"t","t":"Charge to 2.5 V"},{"r":7,"k":"t","t":"Charge to 3.7 V"},
{"r":1,"k":"h","t":"C 1s"}
],
"O":[
{"r":1,"k":"d","x":539,"y":11.2},{"r":1,"k":"d","x":538.7,"y":11.4},{"r":1,"k":"d","x":538.4,"y":11.8},{"r":1,"k":"d","x":538.1,"y":12.1},{"r":1,"k":"d","x":537.8,"y":12.6},{"r":1,"k":"d","x":537.5,"y":13},{"r":1,"k":"d","x":537.2,"y":13.5},{"r":1,"k":"d","x":536.9,"y":14.2},{"r":1,"k":"d","x":536.6,"y":15.2},{"r":1,"k":"d","x":536.3,"y":13.8},{"r":1,"k":"d","x":536,"y":13.8},{"r":1,"k":"d","x":535.7,"y":14.2},{"r":1,"k":"d","x":535.4,"y":14.4},{"r":1,"k":"d","x":535.1,"y":14.4},{"r":1,"k":"d","x":534.8,"y":14.7},{"r":1,"k":"d","x":534.5,"y":15.2},{"r":1,"k":"d","x":534.2,"y":17},{"r":1,"k":"d","x":533.9,"y":19.9},{"r":1,"k":"d","x":533.6,"y":25.1},{"r":1,"k":"d","x":533.3,"y":33.7},{"r":1,"k":"d","x":533,"y":45.8},{"r":1,"k":"d","x":532.7,"y":61.9},{"r":1,"k":"d","x":532.4,"y":78.5},{"r":1,"k":"d","x":532.1,"y":86.9},{"r":1,"k":"d","x":531.8,"y":90},{"r":1,"k":"d","x":531.5,"y":85.6},{"r":1,"k":"d","x":531.2,"y":76.5},{"r":1,"k":"d","x":530.9,"y":62},{"r":1,"k":"d","x":530.6,"y":45},{"r":1,"k":"d","x":530.3,"y":27},{"r":1,"k":"d","x":530,"y":16.5},{"r":1,"k":"d","x":529.7,"y":9.5},{"r":1,"k":"d","x":529.4,"y":7.3},{"r":1,"k":"d","x":529.1,"y":6.4},{"r":1,"k":"d","x":528.8,"y":6.1},{"r":1,"k":"d","x":528.5,"y":6.1},{"r":1,"k":"d","x":528.2,"y":5.9},{"r":1,"k":"d","x":527.9,"y":5.7},{"r":1,"k":"d","x":527.6,"y":5.5},{"r":1,"k":"d","x":527.3,"y":5.4},
{"r":1,"k":"bg","x":539,"y":10.5},{"r":1,"k":"bg","x":534.2,"y":13},{"r":1,"k":"bg","x":533,"y":11.2},{"r":1,"k":"bg","x":532,"y":8.7},{"r":1,"k":"bg","x":530.8,"y":6.1},{"r":1,"k":"bg","x":529.2,"y":5.2},{"r":1,"k":"bg","x":527.3,"y":4.8},
{"r":2,"k":"d","x":539,"y":12.3},{"r":2,"k":"d","x":538.7,"y":10.3},{"r":2,"k":"d","x":538.4,"y":11.3},{"r":2,"k":"d","x":538.1,"y":13.7},{"r":2,"k":"d","x":537.8,"y":15.7},{"r":2,"k":"d","x":537.5,"y":17.9},{"r":2,"k":"d","x":537.2,"y":20.9},{"r":2,"k":"d","x":536.9,"y":23.8},{"r":2,"k":"d","x":536.6,"y":26.7},{"r":2,"k":"d","x":536.3,"y":29.4},{"r":2,"k":"d","x":536,"y":31.6},{"r":2,"k":"d","x":535.7,"y":32.8},{"r":2,"k":"d","x":535.4,"y":32.5},{"r":2,"k":"d","x":535.1,"y":31.1},{"r":2,"k":"d","x":534.8,"y":29.9},{"r":2,"k":"d","x":534.5,"y":28.7},{"r":2,"k":"d","x":534.2,"y":28},{"r":2,"k":"d","x":533.9,"y":28.5},{"r":2,"k":"d","x":533.6,"y":30.3},{"r":2,"k":"d","x":533.3,"y":34.9},{"r":2,"k":"d","x":533,"y":41.4},{"r":2,"k":"d","x":532.7,"y":49.1},{"r":2,"k":"d","x":532.4,"y":58.1},{"r":2,"k":"d","x":532.1,"y":68.4},{"r":2,"k":"d","x":531.8,"y":78.1},{"r":2,"k":"d","x":531.5,"y":84.4},{"r":2,"k":"d","x":531.2,"y":86.7},{"r":2,"k":"d","x":530.9,"y":85},{"r":2,"k":"d","x":530.6,"y":78.6},{"r":2,"k":"d","x":530.3,"y":69.6},{"r":2,"k":"d","x":530,"y":56.8},{"r":2,"k":"d","x":529.7,"y":46.5},{"r":2,"k":"d","x":529.4,"y":36.6},{"r":2,"k":"d","x":529.1,"y":26.8},{"r":2,"k":"d","x":528.8,"y":19.1},{"r":2,"k":"d","x":528.5,"y":14},{"r":2,"k":"d","x":528.2,"y":10.6},{"r":2,"k":"d","x":527.9,"y":8.5},{"r":2,"k":"d","x":527.6,"y":7.2},{"r":2,"k":"d","x":527.3,"y":6.2},
{"r":2,"k":"bg","x":539,"y":10.6},{"r":2,"k":"bg","x":535.4,"y":9.7},{"r":2,"k":"bg","x":533.1,"y":8.9},{"r":2,"k":"bg","x":531.6,"y":7.2},{"r":2,"k":"bg","x":530,"y":5.5},{"r":2,"k":"bg","x":527.3,"y":4.6},
{"r":2,"k":"C=O","x":533.17,"y":10},{"r":2,"k":"C=O","x":532.32,"y":21.5},{"r":2,"k":"C=O","x":531.84,"y":39.2},{"r":2,"k":"C=O","x":531.37,"y":60.1},{"r":2,"k":"C=O","x":530.89,"y":69.7},{"r":2,"k":"C=O","x":530.42,"y":59.1},{"r":2,"k":"C=O","x":529.94,"y":37.2},{"r":2,"k":"C=O","x":529.47,"y":18.6},{"r":2,"k":"C=O","x":528.61,"y":6.1},
{"r":2,"k":"C-O","x":534.9,"y":10},{"r":2,"k":"C-O","x":533.91,"y":14.8},{"r":2,"k":"C-O","x":533.36,"y":22.4},{"r":2,"k":"C-O","x":532.81,"y":31.2},{"r":2,"k":"C-O","x":532.26,"y":34.9},{"r":2,"k":"C-O","x":531.71,"y":29.8},{"r":2,"k":"C-O","x":531.16,"y":20.2},{"r":2,"k":"C-O","x":530.61,"y":11.8},{"r":2,"k":"C-O","x":529.62,"y":5.9},
{"r":2,"k":"Na KLL","x":539,"y":10.8},{"r":2,"k":"Na KLL","x":538.55,"y":11.2},{"r":2,"k":"Na KLL","x":537.47,"y":14.5},{"r":2,"k":"Na KLL","x":536.87,"y":20.3},{"r":2,"k":"Na KLL","x":536.27,"y":26.9},{"r":2,"k":"Na KLL","x":535.67,"y":30.1},{"r":2,"k":"Na KLL","x":534.97,"y":26.7},{"r":2,"k":"Na KLL","x":534.27,"y":19.5},{"r":2,"k":"Na KLL","x":533.57,"y":13.4},{"r":2,"k":"Na KLL","x":532.31,"y":9.6},{"r":2,"k":"Na KLL","x":531,"y":7.6},{"r":2,"k":"Na KLL","x":529.5,"y":5.8},{"r":2,"k":"Na KLL","x":527.3,"y":5},
{"r":3,"k":"d","x":539,"y":14.6},{"r":3,"k":"d","x":538.7,"y":15.8},{"r":3,"k":"d","x":538.4,"y":17.5},{"r":3,"k":"d","x":538.1,"y":19.7},{"r":3,"k":"d","x":537.8,"y":21.7},{"r":3,"k":"d","x":537.5,"y":24.3},{"r":3,"k":"d","x":537.2,"y":27.2},{"r":3,"k":"d","x":536.9,"y":30.3},{"r":3,"k":"d","x":536.6,"y":33.7},{"r":3,"k":"d","x":536.3,"y":36.8},{"r":3,"k":"d","x":536,"y":39.7},{"r":3,"k":"d","x":535.7,"y":42},{"r":3,"k":"d","x":535.4,"y":43.7},{"r":3,"k":"d","x":535.1,"y":45.2},{"r":3,"k":"d","x":534.8,"y":46.6},{"r":3,"k":"d","x":534.5,"y":47.8},{"r":3,"k":"d","x":534.2,"y":49.1},{"r":3,"k":"d","x":533.9,"y":51.2},{"r":3,"k":"d","x":533.6,"y":55.1},{"r":3,"k":"d","x":533.3,"y":61.1},{"r":3,"k":"d","x":533,"y":67.6},{"r":3,"k":"d","x":532.7,"y":74.5},{"r":3,"k":"d","x":532.4,"y":80.3},{"r":3,"k":"d","x":532.1,"y":85.1},{"r":3,"k":"d","x":531.8,"y":88.2},{"r":3,"k":"d","x":531.5,"y":89.2},{"r":3,"k":"d","x":531.2,"y":88.5},{"r":3,"k":"d","x":530.9,"y":85.4},{"r":3,"k":"d","x":530.6,"y":79.6},{"r":3,"k":"d","x":530.3,"y":69.7},{"r":3,"k":"d","x":530,"y":57.7},{"r":3,"k":"d","x":529.7,"y":44.9},{"r":3,"k":"d","x":529.4,"y":30.3},{"r":3,"k":"d","x":529.1,"y":14},{"r":3,"k":"d","x":528.8,"y":8},{"r":3,"k":"d","x":528.5,"y":6.7},{"r":3,"k":"d","x":528.2,"y":6.2},{"r":3,"k":"d","x":527.9,"y":5.5},{"r":3,"k":"d","x":527.6,"y":4.8},{"r":3,"k":"d","x":527.3,"y":4.3},
{"r":3,"k":"bg","x":539,"y":11.5},{"r":3,"k":"bg","x":535.4,"y":10.6},{"r":3,"k":"bg","x":533.1,"y":8.9},{"r":3,"k":"bg","x":531.6,"y":8},{"r":3,"k":"bg","x":530,"y":5.5},{"r":3,"k":"bg","x":527.3,"y":3.8},
{"r":3,"k":"C=O","x":533.09,"y":10},{"r":3,"k":"C=O","x":532.23,"y":21},{"r":3,"k":"C=O","x":531.76,"y":38.2},{"r":3,"k":"C=O","x":531.28,"y":58.1},{"r":3,"k":"C=O","x":530.81,"y":67},{"r":3,"k":"C=O","x":530.34,"y":56.6},{"r":3,"k":"C=O","x":529.86,"y":35.5},{"r":3,"k":"C=O","x":529.39,"y":17.6},{"r":3,"k":"C=O","x":528.53,"y":5.7},
{"r":3,"k":"C-O","x":534.81,"y":11},{"r":3,"k":"C-O","x":533.91,"y":19.3},{"r":3,"k":"C-O","x":533.41,"y":32.3},{"r":3,"k":"C-O","x":532.91,"y":47.7},{"r":3,"k":"C-O","x":532.41,"y":54.7},{"r":3,"k":"C-O","x":531.91,"y":47.1},{"r":3,"k":"C-O","x":531.41,"y":30.7},{"r":3,"k":"C-O","x":530.91,"y":16.5},{"r":3,"k":"C-O","x":530.01,"y":6.3},
{"r":3,"k":"Na KLL","x":539,"y":13.4},{"r":3,"k":"Na KLL","x":538.05,"y":17.5},{"r":3,"k":"Na KLL","x":537.1,"y":25.8},{"r":3,"k":"Na KLL","x":536.15,"y":35.7},{"r":3,"k":"Na KLL","x":535.2,"y":40.1},{"r":3,"k":"Na KLL","x":534.45,"y":34.9},{"r":3,"k":"Na KLL","x":533.7,"y":24.2},{"r":3,"k":"Na KLL","x":532.95,"y":15},{"r":3,"k":"Na KLL","x":531.6,"y":9.7},{"r":3,"k":"Na KLL","x":530,"y":6.3},{"r":3,"k":"Na KLL","x":528,"y":4.4},
{"r":4,"k":"d","x":539,"y":17.5},{"r":4,"k":"d","x":538.7,"y":21},{"r":4,"k":"d","x":538.4,"y":24.1},{"r":4,"k":"d","x":538.1,"y":27.3},{"r":4,"k":"d","x":537.8,"y":31.3},{"r":4,"k":"d","x":537.5,"y":35.2},{"r":4,"k":"d","x":537.2,"y":39},{"r":4,"k":"d","x":536.9,"y":41.1},{"r":4,"k":"d","x":536.6,"y":42.3},{"r":4,"k":"d","x":536.3,"y":42.1},{"r":4,"k":"d","x":536,"y":40.7},{"r":4,"k":"d","x":535.7,"y":39.3},{"r":4,"k":"d","x":535.4,"y":37.3},{"r":4,"k":"d","x":535.1,"y":35.2},{"r":4,"k":"d","x":534.8,"y":33},{"r":4,"k":"d","x":534.5,"y":31.3},{"r":4,"k":"d","x":534.2,"y":32.1},{"r":4,"k":"d","x":533.9,"y":34.7},{"r":4,"k":"d","x":533.6,"y":45},{"r":4,"k":"d","x":533.3,"y":56.2},{"r":4,"k":"d","x":533,"y":69.9},{"r":4,"k":"d","x":532.7,"y":82},{"r":4,"k":"d","x":532.4,"y":87.1},{"r":4,"k":"d","x":532.1,"y":84.5},{"r":4,"k":"d","x":531.8,"y":76.8},{"r":4,"k":"d","x":531.5,"y":68.6},{"r":4,"k":"d","x":531.2,"y":63.9},{"r":4,"k":"d","x":530.9,"y":60},{"r":4,"k":"d","x":530.6,"y":51.9},{"r":4,"k":"d","x":530.3,"y":42.4},{"r":4,"k":"d","x":530,"y":32.1},{"r":4,"k":"d","x":529.7,"y":23.5},{"r":4,"k":"d","x":529.4,"y":17.5},{"r":4,"k":"d","x":529.1,"y":13.2},{"r":4,"k":"d","x":528.8,"y":9.8},{"r":4,"k":"d","x":528.5,"y":7.2},{"r":4,"k":"d","x":528.2,"y":5.8},{"r":4,"k":"d","x":527.9,"y":5.5},{"r":4,"k":"d","x":527.6,"y":6.7},{"r":4,"k":"d","x":527.3,"y":7.2},
{"r":4,"k":"bg","x":539,"y":13.2},{"r":4,"k":"bg","x":535.4,"y":12.4},{"r":4,"k":"bg","x":533.1,"y":10.7},{"r":4,"k":"bg","x":531.5,"y":8.1},{"r":4,"k":"bg","x":530,"y":6.4},{"r":4,"k":"bg","x":527.3,"y":5.5},
{"r":4,"k":"C-O","x":534.53,"y":12.9},{"r":4,"k":"C-O","x":533.77,"y":25.3},{"r":4,"k":"C-O","x":533.34,"y":44.5},{"r":4,"k":"C-O","x":532.92,"y":66.9},{"r":4,"k":"C-O","x":532.49,"y":77.1},{"r":4,"k":"C-O","x":532.07,"y":65.9},{"r":4,"k":"C-O","x":531.64,"y":42},{"r":4,"k":"C-O","x":531.22,"y":21.6},{"r":4,"k":"C-O","x":530.45,"y":8},
{"r":4,"k":"C=O","x":532.66,"y":10.8},{"r":4,"k":"C=O","x":531.99,"y":17.4},{"r":4,"k":"C=O","x":531.61,"y":27.7},{"r":4,"k":"C=O","x":531.24,"y":40.1},{"r":4,"k":"C=O","x":530.86,"y":45.9},{"r":4,"k":"C=O","x":530.49,"y":39.2},{"r":4,"k":"C=O","x":530.11,"y":25.9},{"r":4,"k":"C=O","x":529.74,"y":14.5},{"r":4,"k":"C=O","x":529.06,"y":6.8},
{"r":4,"k":"Na KLL","x":539,"y":16},{"r":4,"k":"Na KLL","x":538.17,"y":20.5},{"r":4,"k":"Na KLL","x":537.62,"y":27.3},{"r":4,"k":"Na KLL","x":537.07,"y":37},{"r":4,"k":"Na KLL","x":536.52,"y":41.5},{"r":4,"k":"Na KLL","x":535.6,"y":36.6},{"r":4,"k":"Na KLL","x":534.67,"y":26.2},{"r":4,"k":"Na KLL","x":533.75,"y":17.2},{"r":4,"k":"Na KLL","x":532.08,"y":11.4},{"r":4,"k":"Na KLL","x":530.5,"y":7.8},{"r":4,"k":"Na KLL","x":528,"y":6.1},
{"r":5,"k":"d","x":539,"y":11.1},{"r":5,"k":"d","x":538.7,"y":11.1},{"r":5,"k":"d","x":538.4,"y":11.3},{"r":5,"k":"d","x":538.1,"y":12},{"r":5,"k":"d","x":537.8,"y":13.2},{"r":5,"k":"d","x":537.5,"y":14.9},{"r":5,"k":"d","x":537.2,"y":16.8},{"r":5,"k":"d","x":536.9,"y":19.1},{"r":5,"k":"d","x":536.6,"y":22.2},{"r":5,"k":"d","x":536.3,"y":24.3},{"r":5,"k":"d","x":536,"y":25.6},{"r":5,"k":"d","x":535.7,"y":26},{"r":5,"k":"d","x":535.4,"y":24.6},{"r":5,"k":"d","x":535.1,"y":22.7},{"r":5,"k":"d","x":534.8,"y":21.2},{"r":5,"k":"d","x":534.5,"y":20},{"r":5,"k":"d","x":534.2,"y":19.1},{"r":5,"k":"d","x":533.9,"y":19.8},{"r":5,"k":"d","x":533.6,"y":22.6},{"r":5,"k":"d","x":533.3,"y":31.6},{"r":5,"k":"d","x":533,"y":42.7},{"r":5,"k":"d","x":532.7,"y":58.1},{"r":5,"k":"d","x":532.4,"y":75.2},{"r":5,"k":"d","x":532.1,"y":84.1},{"r":5,"k":"d","x":531.8,"y":85.8},{"r":5,"k":"d","x":531.5,"y":81.2},{"r":5,"k":"d","x":531.2,"y":71.8},{"r":5,"k":"d","x":530.9,"y":59},{"r":5,"k":"d","x":530.6,"y":45.3},{"r":5,"k":"d","x":530.3,"y":34.2},{"r":5,"k":"d","x":530,"y":24.8},{"r":5,"k":"d","x":529.7,"y":17.9},{"r":5,"k":"d","x":529.4,"y":13.7},{"r":5,"k":"d","x":529.1,"y":10.8},{"r":5,"k":"d","x":528.8,"y":8.9},{"r":5,"k":"d","x":528.5,"y":7.9},{"r":5,"k":"d","x":528.2,"y":7.4},{"r":5,"k":"d","x":527.9,"y":7},{"r":5,"k":"d","x":527.6,"y":6.5},{"r":5,"k":"d","x":527.3,"y":6},
{"r":5,"k":"bg","x":539,"y":10.3},{"r":5,"k":"bg","x":535.4,"y":9.4},{"r":5,"k":"bg","x":533.1,"y":8.5},{"r":5,"k":"bg","x":531.6,"y":6.8},{"r":5,"k":"bg","x":530,"y":4.8},{"r":5,"k":"bg","x":527.3,"y":3.8},
{"r":5,"k":"C-O","x":534.19,"y":9.8},{"r":5,"k":"C-O","x":533.43,"y":19},{"r":5,"k":"C-O","x":533,"y":33.2},{"r":5,"k":"C-O","x":532.58,"y":49.6},{"r":5,"k":"C-O","x":532.15,"y":57.2},{"r":5,"k":"C-O","x":531.73,"y":48.6},{"r":5,"k":"C-O","x":531.3,"y":31.2},{"r":5,"k":"C-O","x":530.88,"y":16.3},{"r":5,"k":"C-O","x":530.11,"y":5.8},
{"r":5,"k":"C=O","x":533.45,"y":9.4},{"r":5,"k":"C=O","x":532.6,"y":17.7},{"r":5,"k":"C=O","x":532.12,"y":30.8},{"r":5,"k":"C=O","x":531.65,"y":45.8},{"r":5,"k":"C=O","x":531.17,"y":52.5},{"r":5,"k":"C=O","x":530.7,"y":44.5},{"r":5,"k":"C=O","x":530.22,"y":28.3},{"r":5,"k":"C=O","x":529.75,"y":14.4},{"r":5,"k":"C=O","x":528.89,"y":5.2},
{"r":5,"k":"Na KLL","x":539,"y":10.4},{"r":5,"k":"Na KLL","x":538.59,"y":10.6},{"r":5,"k":"Na KLL","x":537.51,"y":13.3},{"r":5,"k":"Na KLL","x":536.91,"y":17.6},{"r":5,"k":"Na KLL","x":536.31,"y":22.7},{"r":5,"k":"Na KLL","x":535.71,"y":25.1},{"r":5,"k":"Na KLL","x":535.11,"y":22.3},{"r":5,"k":"Na KLL","x":534.51,"y":16.9},{"r":5,"k":"Na KLL","x":533.91,"y":12.1},{"r":5,"k":"Na KLL","x":532.83,"y":10},{"r":5,"k":"Na KLL","x":531,"y":7.1},{"r":5,"k":"Na KLL","x":529,"y":4.9},{"r":5,"k":"Na KLL","x":527.3,"y":4.1},
{"r":6,"k":"d","x":539,"y":13.1},{"r":6,"k":"d","x":538.7,"y":13.9},{"r":6,"k":"d","x":538.4,"y":15.1},{"r":6,"k":"d","x":538.1,"y":16.3},{"r":6,"k":"d","x":537.8,"y":17.5},{"r":6,"k":"d","x":537.5,"y":19.2},{"r":6,"k":"d","x":537.2,"y":21.6},{"r":6,"k":"d","x":536.9,"y":24.7},{"r":6,"k":"d","x":536.6,"y":28.4},{"r":6,"k":"d","x":536.3,"y":32.3},{"r":6,"k":"d","x":536,"y":37.4},{"r":6,"k":"d","x":535.7,"y":40.8},{"r":6,"k":"d","x":535.4,"y":41.7},{"r":6,"k":"d","x":535.1,"y":41.7},{"r":6,"k":"d","x":534.8,"y":39.6},{"r":6,"k":"d","x":534.5,"y":37.4},{"r":6,"k":"d","x":534.2,"y":36.1},{"r":6,"k":"d","x":533.9,"y":35.5},{"r":6,"k":"d","x":533.6,"y":35.2},{"r":6,"k":"d","x":533.3,"y":37.9},{"r":6,"k":"d","x":533,"y":42.5},{"r":6,"k":"d","x":532.7,"y":47.1},{"r":6,"k":"d","x":532.4,"y":53.9},{"r":6,"k":"d","x":532.1,"y":60.4},{"r":6,"k":"d","x":531.8,"y":67.2},{"r":6,"k":"d","x":531.5,"y":78.2},{"r":6,"k":"d","x":531.2,"y":89.3},{"r":6,"k":"d","x":530.9,"y":91.8},{"r":6,"k":"d","x":530.6,"y":83.3},{"r":6,"k":"d","x":530.3,"y":68.9},{"r":6,"k":"d","x":530,"y":53.6},{"r":6,"k":"d","x":529.7,"y":34.9},{"r":6,"k":"d","x":529.4,"y":22.1},{"r":6,"k":"d","x":529.1,"y":13.6},{"r":6,"k":"d","x":528.8,"y":9.7},{"r":6,"k":"d","x":528.5,"y":7.7},{"r":6,"k":"d","x":528.2,"y":6.6},{"r":6,"k":"d","x":527.9,"y":6},{"r":6,"k":"d","x":527.6,"y":5.4},{"r":6,"k":"d","x":527.3,"y":4.9},
{"r":6,"k":"bg","x":539,"y":12.8},{"r":6,"k":"bg","x":535.4,"y":11.9},{"r":6,"k":"bg","x":533.1,"y":11.1},{"r":6,"k":"bg","x":531.6,"y":8.5},{"r":6,"k":"bg","x":530,"y":6},{"r":6,"k":"bg","x":527.3,"y":4.3},
{"r":6,"k":"C=O","x":532.75,"y":12.1},{"r":6,"k":"C=O","x":532.03,"y":25.7},{"r":6,"k":"C=O","x":531.63,"y":46.6},{"r":6,"k":"C=O","x":531.23,"y":71.8},{"r":6,"k":"C=O","x":530.83,"y":83.3},{"r":6,"k":"C=O","x":530.43,"y":70.6},{"r":6,"k":"C=O","x":530.03,"y":44.1},{"r":6,"k":"C=O","x":529.63,"y":21.8},{"r":6,"k":"C=O","x":528.91,"y":6.7},
{"r":6,"k":"C-O","x":534.64,"y":12.1},{"r":6,"k":"C-O","x":533.79,"y":17.4},{"r":6,"k":"C-O","x":533.31,"y":25.7},{"r":6,"k":"C-O","x":532.84,"y":35.2},{"r":6,"k":"C-O","x":532.36,"y":39.1},{"r":6,"k":"C-O","x":531.89,"y":33.4},{"r":6,"k":"C-O","x":531.41,"y":22.7},{"r":6,"k":"C-O","x":530.94,"y":13.6},{"r":6,"k":"C-O","x":530.08,"y":6.6},
{"r":6,"k":"Na KLL","x":539,"y":13.1},{"r":6,"k":"Na KLL","x":538.92,"y":13.3},{"r":6,"k":"Na KLL","x":537.53,"y":18.7},{"r":6,"k":"Na KLL","x":536.75,"y":27.2},{"r":6,"k":"Na KLL","x":535.98,"y":37.1},{"r":6,"k":"Na KLL","x":535.2,"y":41.7},{"r":6,"k":"Na KLL","x":534.43,"y":36.7},{"r":6,"k":"Na KLL","x":533.65,"y":26.3},{"r":6,"k":"Na KLL","x":532.88,"y":18.7},{"r":6,"k":"Na KLL","x":531.48,"y":10.3},{"r":6,"k":"Na KLL","x":530,"y":7},{"r":6,"k":"Na KLL","x":528,"y":5.2},
{"r":7,"k":"d","x":538.7,"y":10.6},{"r":7,"k":"d","x":538.4,"y":11.3},{"r":7,"k":"d","x":538.1,"y":12.1},{"r":7,"k":"d","x":537.8,"y":13.5},{"r":7,"k":"d","x":537.5,"y":15.4},{"r":7,"k":"d","x":537.2,"y":17.9},{"r":7,"k":"d","x":536.9,"y":21.2},{"r":7,"k":"d","x":536.6,"y":24.6},{"r":7,"k":"d","x":536.3,"y":27.7},{"r":7,"k":"d","x":536,"y":30.1},{"r":7,"k":"d","x":535.7,"y":31.6},{"r":7,"k":"d","x":535.4,"y":31.8},{"r":7,"k":"d","x":535.1,"y":30.8},{"r":7,"k":"d","x":534.8,"y":28.5},{"r":7,"k":"d","x":534.5,"y":26},{"r":7,"k":"d","x":534.2,"y":23.1},{"r":7,"k":"d","x":533.9,"y":21.2},{"r":7,"k":"d","x":533.6,"y":20.3},{"r":7,"k":"d","x":533.3,"y":20.9},{"r":7,"k":"d","x":533,"y":23.1},{"r":7,"k":"d","x":532.7,"y":26.8},{"r":7,"k":"d","x":532.4,"y":32},{"r":7,"k":"d","x":532.1,"y":44.8},{"r":7,"k":"d","x":531.8,"y":59.3},{"r":7,"k":"d","x":531.5,"y":75.6},{"r":7,"k":"d","x":531.2,"y":86.2},{"r":7,"k":"d","x":530.9,"y":87.2},{"r":7,"k":"d","x":530.6,"y":78.1},{"r":7,"k":"d","x":530.3,"y":56.8},{"r":7,"k":"d","x":530,"y":36.2},{"r":7,"k":"d","x":529.7,"y":20.9},{"r":7,"k":"d","x":529.4,"y":12.6},{"r":7,"k":"d","x":529.1,"y":9.7},{"r":7,"k":"d","x":528.8,"y":8.4},{"r":7,"k":"d","x":528.5,"y":7.7},{"r":7,"k":"d","x":528.2,"y":7},{"r":7,"k":"d","x":527.9,"y":6.5},{"r":7,"k":"d","x":527.6,"y":6.2},{"r":7,"k":"d","x":527.3,"y":5.8},
{"r":7,"k":"bg","x":538.6,"y":10.3},{"r":7,"k":"bg","x":535.4,"y":9.7},{"r":7,"k":"bg","x":533.1,"y":9.2},{"r":7,"k":"bg","x":531.6,"y":7.2},{"r":7,"k":"bg","x":530,"y":5.5},{"r":7,"k":"bg","x":527.3,"y":4.6},
{"r":7,"k":"C=O","x":532.6,"y":10},{"r":7,"k":"C=O","x":531.95,"y":24},{"r":7,"k":"C=O","x":531.59,"y":46.1},{"r":7,"k":"C=O","x":531.22,"y":72.1},{"r":7,"k":"C=O","x":530.86,"y":84.1},{"r":7,"k":"C=O","x":530.5,"y":71.3},{"r":7,"k":"C=O","x":530.14,"y":44.6},{"r":7,"k":"C=O","x":529.77,"y":21.7},{"r":7,"k":"C=O","x":529.12,"y":6.6},
{"r":7,"k":"C-O","x":534.25,"y":9.7},{"r":7,"k":"C-O","x":533.53,"y":11.5},{"r":7,"k":"C-O","x":533.13,"y":14.4},{"r":7,"k":"C-O","x":532.73,"y":17.4},{"r":7,"k":"C-O","x":532.33,"y":18.6},{"r":7,"k":"C-O","x":531.93,"y":16.3},{"r":7,"k":"C-O","x":531.53,"y":12.2},{"r":7,"k":"C-O","x":531.13,"y":8.8},{"r":7,"k":"C-O","x":530.41,"y":6.1},
{"r":7,"k":"Na KLL","x":538.75,"y":10.7},{"r":7,"k":"Na KLL","x":537.54,"y":14.4},{"r":7,"k":"Na KLL","x":536.86,"y":20.3},{"r":7,"k":"Na KLL","x":536.19,"y":27.2},{"r":7,"k":"Na KLL","x":535.51,"y":30.3},{"r":7,"k":"Na KLL","x":534.84,"y":26.9},{"r":7,"k":"Na KLL","x":534.16,"y":19.8},{"r":7,"k":"Na KLL","x":533.49,"y":14.1},{"r":7,"k":"Na KLL","x":532.27,"y":10.1},{"r":7,"k":"Na KLL","x":531,"y":7.8},{"r":7,"k":"Na KLL","x":529.5,"y":5.8},{"r":7,"k":"Na KLL","x":527.3,"y":4.8},
{"r":1,"k":"a","g":"C=O","t":"C=O","x":534.97,"y":60.6},{"r":2,"k":"a","g":"C-O","t":"C−O","x":534.15,"y":53},{"r":2,"k":"a","g":"Na KLL","t":"Na KLL","x":537.25,"y":45.1},
{"r":1,"k":"w","g":"C=O","x":533.96,"y":54.5,"x2":532.18,"y2":40.7},{"r":2,"k":"w","g":"C-O","x":534.04,"y":47.4,"x2":532.95,"y2":26},{"r":2,"k":"w","g":"Na KLL","x":537.45,"y":39.7,"x2":535.67,"y2":22.6},
{"r":1,"k":"t","t":"Pristine"},{"r":2,"k":"t","t":"Discharge to 2.2 V"},{"r":3,"k":"t","t":"Discharge to 1.5 V"},{"r":4,"k":"t","t":"Discharge to 0.9 V"},{"r":5,"k":"t","t":"Charge to 2.0 V"},{"r":6,"k":"t","t":"Charge to 2.5 V"},{"r":7,"k":"t","t":"Charge to 3.7 V"},
{"r":1,"k":"h","t":"O 1s"}
]
},
"hconcat":[
{
"data":{"name":"C"},
"facet":{"row":{"field":"r","type":"ordinal","title":null,"header":{"labels":false,"title":null,"labelPadding":0,"titlePadding":0}}},
"spacing":9,
"bounds":"flush",
"spec":{
"width":259,"height":195,
"layer":[
{"transform":[{"filter":"datum.k == 'd'"}],"mark":{"type":"point","shape":"square","filled":true,"size":92,"fill":"#ee0000","stroke":"#1a1a1a","strokeWidth":1.2,"opacity":1,"clip":true},
"encoding":{
"x":{"field":"x","type":"quantitative","scale":{"domain":[281,293],"reverse":true,"nice":false,"zero":false},"axis":{"title":"Binding energy (eV)","values":[281,282,283,284,285,286,287,288,289,290,291,292,293],"labelExpr":"datum.value % 2 == 0 ? datum.label : ''","tickSize":{"condition":{"test":"datum.value % 2 == 0","value":5},"value":3}}},
"y":{"field":"y","type":"quantitative","scale":{"domain":[0,100],"nice":false,"zero":false},"axis":null}}},
{"transform":[{"filter":{"field":"k","oneOf":["bg","C-F","C=O","C=N","C-O","C-N","C=C","C-C"]}}],"mark":{"type":"line","interpolate":"monotone","strokeWidth":1.8,"clip":true},
"encoding":{"x":{"field":"x","type":"quantitative","scale":{"domain":[281,293],"reverse":true,"nice":false,"zero":false},"axis":{"title":"Binding energy (eV)","values":[281,282,283,284,285,286,287,288,289,290,291,292,293],"labelExpr":"datum.value % 2 == 0 ? datum.label : ''","tickSize":{"condition":{"test":"datum.value % 2 == 0","value":5},"value":3}}},"y":{"field":"y","type":"quantitative","axis":null},
"color":{"field":"k","type":"nominal","scale":{"domain":["bg","C-F","C=O","C=N","C-O","C-N","C=C","C-C"],"range":["#ff0000","#00dcdc","#8b2a8b","#0000ff","#8c8c8c","#ff8c00","#ff00ff","#008000"]},"legend":null}}},
{"transform":[{"filter":"datum.k == 'd'"}],"mark":{"type":"line","interpolate":"monotone","strokeWidth":2,"color":"#000000","clip":true},
"encoding":{"x":{"field":"x","type":"quantitative","scale":{"domain":[281,293],"reverse":true,"nice":false,"zero":false},"axis":{"title":"Binding energy (eV)","values":[281,282,283,284,285,286,287,288,289,290,291,292,293],"labelExpr":"datum.value % 2 == 0 ? datum.label : ''","tickSize":{"condition":{"test":"datum.value % 2 == 0","value":5},"value":3}}},"y":{"field":"y","type":"quantitative","axis":null}}},
{"transform":[{"filter":"datum.k == 'w'"}],"mark":{"type":"rule","strokeWidth":1.4},
"encoding":{"x":{"field":"x","type":"quantitative","scale":{"domain":[281,293],"reverse":true,"nice":false,"zero":false},"axis":{"title":"Binding energy (eV)","values":[281,282,283,284,285,286,287,288,289,290,291,292,293],"labelExpr":"datum.value % 2 == 0 ? datum.label : ''","tickSize":{"condition":{"test":"datum.value % 2 == 0","value":5},"value":3}}},"y":{"field":"y","type":"quantitative","axis":null},"x2":{"field":"x2"},"y2":{"field":"y2"},"color":{"field":"g","type":"nominal","legend":null}}},
{"transform":[{"filter":"datum.k == 'a'"}],"mark":{"type":"text","fontSize":17,"fontWeight":"bold","font":"Liberation Sans","align":"center","baseline":"middle"},
"encoding":{"x":{"field":"x","type":"quantitative","scale":{"domain":[281,293],"reverse":true,"nice":false,"zero":false},"axis":{"title":"Binding energy (eV)","values":[281,282,283,284,285,286,287,288,289,290,291,292,293],"labelExpr":"datum.value % 2 == 0 ? datum.label : ''","tickSize":{"condition":{"test":"datum.value % 2 == 0","value":5},"value":3}}},"y":{"field":"y","type":"quantitative","axis":null},"text":{"field":"t"},"color":{"field":"g","type":"nominal","legend":null}}},
{"transform":[{"filter":"datum.k == 't'"}],"mark":{"type":"text","fontSize":16.5,"fontWeight":"bold","font":"Liberation Sans","align":"left","baseline":"middle","color":"#111"},
"encoding":{"x":{"datum":292.6,"type":"quantitative","scale":{"domain":[281,293],"reverse":true,"nice":false,"zero":false},"axis":{"title":"Binding energy (eV)","values":[281,282,283,284,285,286,287,288,289,290,291,292,293],"labelExpr":"datum.value % 2 == 0 ? datum.label : ''","tickSize":{"condition":{"test":"datum.value % 2 == 0","value":5},"value":3}}},"y":{"datum":92,"type":"quantitative","axis":null},"text":{"field":"t"}}},
{"transform":[{"filter":"datum.k == 'h'"}],"mark":{"type":"text","fontSize":16.5,"fontWeight":"bold","font":"Liberation Sans","align":"right","baseline":"middle","color":"#111"},
"encoding":{"x":{"datum":281.43,"type":"quantitative","scale":{"domain":[281,293],"reverse":true,"nice":false,"zero":false},"axis":{"title":"Binding energy (eV)","values":[281,282,283,284,285,286,287,288,289,290,291,292,293],"labelExpr":"datum.value % 2 == 0 ? datum.label : ''","tickSize":{"condition":{"test":"datum.value % 2 == 0","value":5},"value":3}}},"y":{"datum":92,"type":"quantitative","axis":null},"text":{"field":"t"}}}
]
}
},
{
"data":{"name":"O"},
"facet":{"row":{"field":"r","type":"ordinal","title":null,"header":{"labels":false,"title":null,"labelPadding":0,"titlePadding":0}}},
"spacing":9,
"bounds":"flush",
"spec":{
"width":251,"height":195,
"layer":[
{"transform":[{"filter":"datum.k == 'd'"}],"mark":{"type":"point","shape":"square","filled":true,"size":92,"fill":"#ee0000","stroke":"#1a1a1a","strokeWidth":1.2,"opacity":1,"clip":true},
"encoding":{
"x":{"field":"x","type":"quantitative","scale":{"domain":[527.33,539],"reverse":true,"nice":false,"zero":false},"axis":{"title":"Binding energy (eV)","values":[528,529,530,531,532,533,534,535,536,537,538,539],"labelExpr":"datum.value % 2 == 0 ? datum.label : ''","tickSize":{"condition":{"test":"datum.value % 2 == 0","value":5},"value":3},"titleX":125}},
"y":{"field":"y","type":"quantitative","scale":{"domain":[0,100],"nice":false,"zero":false},"axis":null}}},
{"transform":[{"filter":{"field":"k","oneOf":["bg","Na KLL","C-O","C=O"]}}],"mark":{"type":"line","interpolate":"monotone","strokeWidth":1.8,"clip":true},
"encoding":{"x":{"field":"x","type":"quantitative"},"y":{"field":"y","type":"quantitative"},
"color":{"field":"k","type":"nominal","scale":{"domain":["bg","Na KLL","C-O","C=O"],"range":["#ff0000","#008000","#ff00ff","#0000ff"]},"legend":null}}},
{"transform":[{"filter":"datum.k == 'd'"}],"mark":{"type":"line","interpolate":"monotone","strokeWidth":2,"clip":true},
"encoding":{"x":{"field":"x","type":"quantitative"},"y":{"field":"y","type":"quantitative"},"color":{"condition":{"test":"datum.r == 1","value":"#0000ff"},"value":"#000000"}}},
{"transform":[{"filter":"datum.k == 'w'"}],"mark":{"type":"rule","strokeWidth":1.6},
"encoding":{"x":{"field":"x","type":"quantitative"},"y":{"field":"y","type":"quantitative"},"x2":{"field":"x2"},"y2":{"field":"y2"},"color":{"field":"g","type":"nominal","legend":null}}},
{"transform":[{"filter":"datum.k == 'a'"}],"mark":{"type":"text","fontSize":17,"fontWeight":"bold","font":"Liberation Sans","align":"center","baseline":"middle"},
"encoding":{"x":{"field":"x","type":"quantitative"},"y":{"field":"y","type":"quantitative"},"text":{"field":"t"},"color":{"field":"g","type":"nominal","legend":null}}},
{"transform":[{"filter":"datum.k == 't'"}],"mark":{"type":"text","fontSize":16.5,"fontWeight":"bold","font":"Liberation Sans","align":"left","baseline":"middle","color":"#111"},
"encoding":{"x":{"datum":538.55,"type":"quantitative"},"y":{"datum":92,"type":"quantitative"},"text":{"field":"t"}}},
{"transform":[{"filter":"datum.k == 'h'"}],"mark":{"type":"text","fontSize":16.5,"fontWeight":"bold","font":"Liberation Sans","align":"right","baseline":"middle","color":"#111"},
"encoding":{"x":{"datum":527.43,"type":"quantitative"},"y":{"datum":92,"type":"quantitative"},"text":{"field":"t"}}}
]
}
}
]
}
